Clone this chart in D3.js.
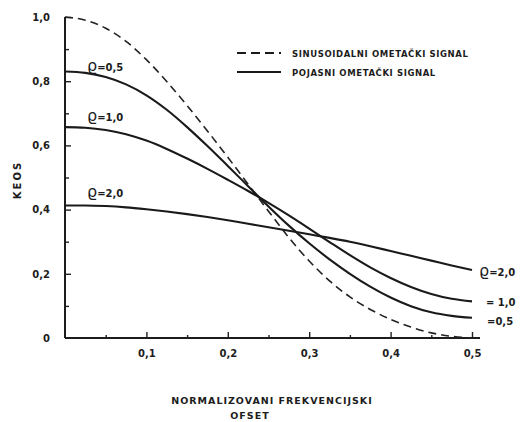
<!DOCTYPE html>
<html>
<head>
<meta charset="utf-8">
<script src="https://cdn.jsdelivr.net/npm/d3@7"></script>
<style>
  body { margin: 0; background: #fff; }
  text { font-family: "DejaVu Sans", sans-serif; fill: #1c1c1c; }
</style>
</head>
<body>
<svg id="chart"></svg>
<script>
"use strict";

// =================== DATA ===================
const offsets = [0, 0.025, 0.05, 0.075, 0.1, 0.125, 0.15, 0.175, 0.2, 0.225, 0.25,
                 0.275, 0.3, 0.325, 0.35, 0.375, 0.4, 0.425, 0.45, 0.475, 0.5];
const sinusoidal = [1.0, 0.99, 0.965, 0.924, 0.867, 0.799, 0.724, 0.645, 0.563, 0.479, 0.395,
                    0.313, 0.24, 0.178, 0.128, 0.089, 0.058, 0.034, 0.016, 0.005, 0.0];
const rho05 = [0.83, 0.826, 0.813, 0.79, 0.756, 0.711, 0.657, 0.598, 0.536, 0.473, 0.41,
               0.35, 0.295, 0.245, 0.2, 0.16, 0.126, 0.099, 0.08, 0.069, 0.063];
const rho10 = [0.657, 0.655, 0.648, 0.635, 0.615, 0.589, 0.559, 0.527, 0.493, 0.458, 0.421,
               0.382, 0.341, 0.299, 0.258, 0.22, 0.187, 0.159, 0.137, 0.122, 0.114];
const rho20 = [0.413, 0.413, 0.411, 0.407, 0.401, 0.394, 0.386, 0.377, 0.367, 0.356, 0.345,
               0.334, 0.323, 0.312, 0.3, 0.286, 0.271, 0.256, 0.241, 0.226, 0.212];
const xTicks = [0.1, 0.2, 0.3, 0.4, 0.5];
const xMinor = [0.05, 0.15, 0.25, 0.35, 0.45];
const yTicks = [0, 0.2, 0.4, 0.6, 0.8, 1.0];
const yMinor = [0.1, 0.3, 0.5, 0.7, 0.9];
const legendItems = ["SINUSOIDALNI OMETAČKI SIGNAL", "POJASNI OMETAČKI SIGNAL"];

// =================== SETUP ===================
const W = 520, H = 422;
const svg = d3.select("#chart").attr("width", W).attr("height", H);

const x = d3.scaleLinear().domain([0, 0.5]).range([65, 472]);
const y = d3.scaleLinear().domain([0, 1]).range([338, 17]);
const comma = d => d === 0 ? "0" : d3.format(".1f")(d).replace(".", ",");

// =================== AXES ===================
const axX = svg.append("g").attr("transform", `translate(0,${y(0)})`)
  .call(d3.axisBottom(x).tickValues(xTicks).tickSize(-6).tickPadding(12).tickFormat(comma));
const axXm = svg.append("g").attr("transform", `translate(0,${y(0)})`)
  .call(d3.axisBottom(x).tickValues(xMinor).tickSize(-3).tickFormat(""));
const axY = svg.append("g").attr("transform", `translate(${x(0)},0)`)
  .call(d3.axisLeft(y).tickValues(yTicks).tickSize(-6).tickPadding(15).tickFormat(comma));
const axYm = svg.append("g").attr("transform", `translate(${x(0)},0)`)
  .call(d3.axisLeft(y).tickValues(yMinor).tickSize(-4).tickFormat(""));

[axX, axXm, axY, axYm].forEach(g => {
  g.select(".domain").remove();
  g.selectAll(".tick line").attr("stroke", "#222").attr("stroke-width", 1.4);
  g.selectAll("text").style("font-size", "10px").style("font-weight", "bold").attr("fill", "#1c1c1c");
});
axY.selectAll(".tick").filter(d => d === 0).select("line").remove();

svg.append("line").attr("x1", x(0)).attr("x2", x(0.5) + 8).attr("y1", y(0)).attr("y2", y(0))
  .attr("stroke", "#1c1c1c").attr("stroke-width", 2);
svg.append("line").attr("x1", x(0)).attr("x2", x(0)).attr("y1", y(0)).attr("y2", y(1))
  .attr("stroke", "#1c1c1c").attr("stroke-width", 2);

// =================== CURVES ===================
const line = vals => d3.line().x((d, i) => x(offsets[i])).y(d => y(d)).curve(d3.curveMonotoneX)(vals);

svg.append("path").attr("d", line(sinusoidal)).attr("fill", "none")
  .attr("stroke", "#222").attr("stroke-width", 1.6).attr("stroke-dasharray", "8,5");
[rho05, rho10, rho20].forEach(vals => {
  svg.append("path").attr("d", line(vals)).attr("fill", "none")
    .attr("stroke", "#1a1a1a").attr("stroke-width", 2.1);
});

// =================== CURVE LABELS ===================
const lab = (tx, ty, rho, s) => {
  const t = svg.append("text").attr("x", tx).attr("y", ty).style("font-weight", "bold");
  if (rho) t.append("tspan").style("font-size", "16px").style("font-weight", "normal").text("ϱ");
  t.append("tspan").style("font-size", "10px").text(s);
};
lab(87, 71, true, "=0,5");
lab(87, 121, true, "=1,0");
lab(87, 197, true, "=2,0");
lab(479, 276, true, "=2,0");
lab(486, 306, false, "= 1,0");
lab(487, 325, false, "=0,5");

// =================== LEGEND ===================
legendItems.forEach((t, i) => {
  const ly = 53 + i * 19;
  svg.append("line").attr("x1", 237).attr("x2", 281).attr("y1", ly).attr("y2", ly)
    .attr("stroke", "#1a1a1a").attr("stroke-width", 2)
    .attr("stroke-dasharray", i === 0 ? "9,5" : null);
  svg.append("text").attr("x", 292).attr("y", ly + 3.5)
    .style("font-size", "8.5px").style("font-weight", "bold").style("letter-spacing", "0.6px")
    .text(t);
});

// =================== AXIS TITLES ===================
svg.append("text").attr("transform", "translate(21,180) rotate(-90)")
  .attr("text-anchor", "middle").style("font-size", "10px").style("font-weight", "bold")
  .style("letter-spacing", "2px").text("KEOS");
svg.append("text").attr("x", 272).attr("y", 404).attr("text-anchor", "middle")
  .style("font-size", "9.5px").style("font-weight", "bold").style("letter-spacing", "1px")
  .text("NORMALIZOVANI FREKVENCIJSKI");
svg.append("text").attr("x", 250).attr("y", 419).attr("text-anchor", "middle")
  .style("font-size", "9.5px").style("font-weight", "bold").style("letter-spacing", "1px")
  .text("OFSET");
</script>
</body>
</html>
